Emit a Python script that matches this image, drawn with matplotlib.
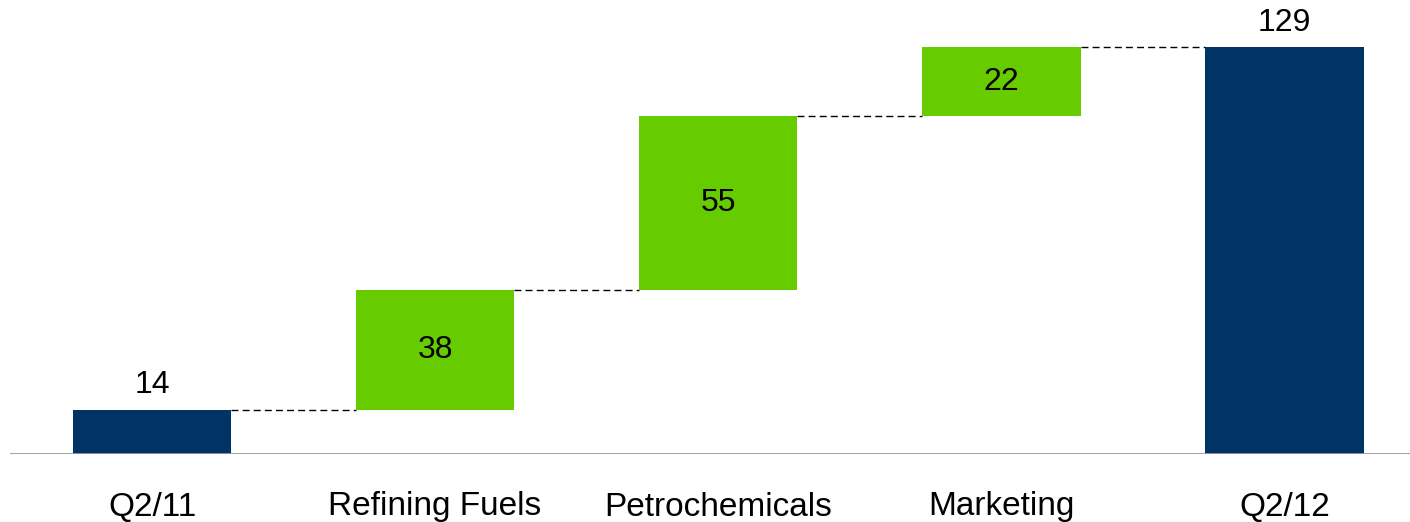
import matplotlib
matplotlib.use("Agg")
import matplotlib.pyplot as plt

categories = ["Q2/11", "Refining Fuels", "Petrochemicals", "Marketing", "Q2/12"]
values = [14, 38, 55, 22, 129]
is_total = [True, False, False, False, True]

navy = "#003366"
green = "#66cc00"

plt.rcParams['font.family'] = ['Liberation Sans', 'DejaVu Sans']

fig = plt.figure(figsize=(14.10, 5.22), dpi=100)
W, H = 1410, 522
spacing = 283.1
x0_px = 152
left_px = x0_px - 0.5 * spacing
right_px = x0_px + 4.5 * spacing
base_px = 68  # from bottom
ppu = 3.155
ymax = 140
ax = fig.add_axes([left_px / W, base_px / H, (right_px - left_px) / W, ymax * ppu / H])

width = 0.56
bottoms, tops = [], []
cum = 0
for v, tot in zip(values, is_total):
    if tot:
        b, t = 0, v
        cum = v
    else:
        b, t = cum, cum + v
        cum = t
    bottoms.append(b)
    tops.append(t)

xs = list(range(len(categories)))
for i, (b, t, tot) in enumerate(zip(bottoms, tops, is_total)):
    ax.bar(xs[i], t - b, bottom=b, width=width, color=navy if tot else green, zorder=2)
    if tot:
        ax.text(xs[i], t + 3, str(values[i]), ha="center", va="bottom", fontsize=23, color="black")
    else:
        ax.text(xs[i], (b + t) / 2, str(values[i]), ha="center", va="center", fontsize=23, color="black")

for i in range(len(categories) - 1):
    level = tops[i]
    ax.plot([xs[i] + width / 2, xs[i + 1] - width / 2], [level, level],
            color="black", lw=1, ls=(0, (5, 3)), zorder=1)

ax.set_xlim(-0.5, 4.5)
ax.set_ylim(0, ymax)
ax.axhline(0, color="#999999", lw=2, zorder=3)
for s in ax.spines.values():
    s.set_visible(False)
ax.set_yticks([])
ax.set_xticks(xs)
ax.set_xticklabels(categories, fontsize=24)
ax.tick_params(axis="x", length=0, pad=27)

fig.savefig("out.png", dpi=100)
